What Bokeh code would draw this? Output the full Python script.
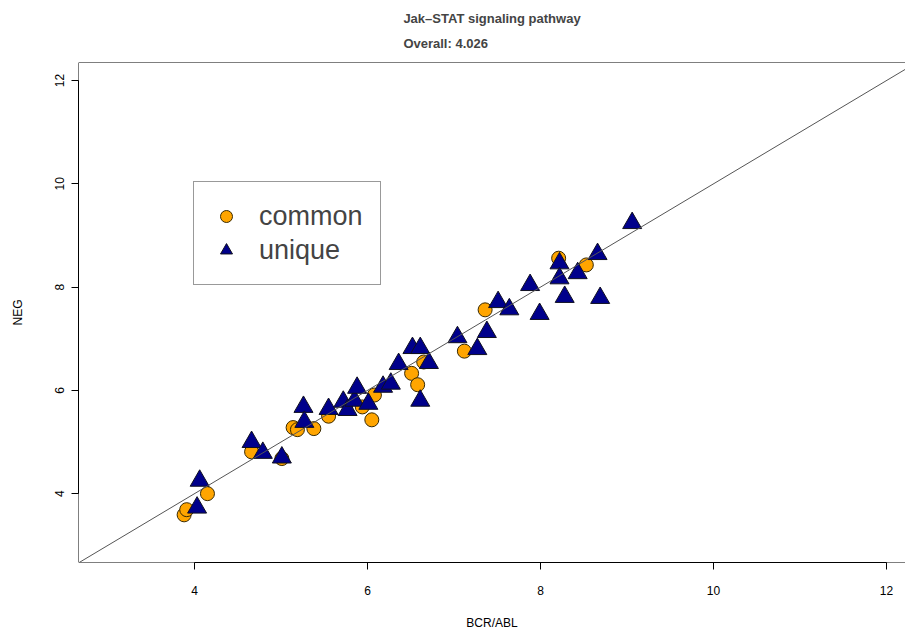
import math
from bokeh.plotting import figure
from bokeh.models import Range1d, Slope, Span, Legend, LegendItem, Title, FixedTicker
from bokeh.embed import file_html
from bokeh.resources import INLINE

# ---- data ----
common_x = [3.88, 3.91, 4.15, 4.66, 5.01, 5.14, 5.19, 5.38, 5.55, 5.94, 6.05, 6.08,
            6.51, 6.58, 6.65, 7.12, 7.36, 8.21, 8.53]
common_y = [3.59, 3.69, 4.00, 4.81, 4.68, 5.28, 5.24, 5.26, 5.50, 5.68, 5.43, 5.91,
            6.33, 6.11, 6.55, 6.76, 7.56, 8.56, 8.43]

unique_x = [4.03, 4.06, 4.66, 4.79, 5.01, 5.26, 5.27, 5.55, 5.72, 5.77, 5.85, 5.88,
            6.01, 6.18, 6.27, 6.36, 6.52, 6.61, 6.71, 6.61, 7.04, 7.27, 7.38, 7.51,
            7.64, 7.88, 7.99, 8.22, 8.22, 8.28, 8.43, 8.66, 8.69, 9.06]
unique_y = [3.73, 4.25, 5.00, 4.79, 4.70, 5.68, 5.39, 5.64, 5.78, 5.62, 5.80, 6.05,
            5.74, 6.07, 6.13, 6.51, 6.82, 6.82, 6.53, 5.80, 7.03, 6.80, 7.13, 7.71,
            7.57, 8.04, 7.48, 8.46, 8.17, 7.81, 8.27, 8.64, 7.79, 9.24]

x_ticks = [4, 6, 8, 10, 12]
y_ticks = [4, 6, 8, 10, 12]

title_lines = ["Jak\u2013STAT signaling pathway", "Overall: 4.026"]

FONT = "Liberation Sans"

p = figure(width=905, height=632, output_backend="svg", toolbar_location=None,
           title=None,
           x_range=Range1d(2.659, 12.22), y_range=Range1d(2.667, 12.35),
           min_border_left=78, min_border_right=0, min_border_top=62, min_border_bottom=70)
p.background_fill_color = "white"
p.border_fill_color = "white"
p.outline_line_color = None
p.grid.visible = False

# box (left, top, bottom)
for loc, dim in [(2.659, "height"), (12.35, "width"), (2.667, "width")]:
    p.add_layout(Span(location=loc, dimension=dim, line_color="black", line_width=1))

p.add_layout(Slope(gradient=1, y_intercept=0, line_color="#555555", line_width=1))

r_common = p.scatter(common_x, common_y, marker="circle", size=14,
                     fill_color="#FFA500", line_color="#3a2a00", line_width=1)
r_unique = p.scatter(unique_x, unique_y, marker="triangle", size=19,
                     fill_color="#00008B", line_color="#101020", line_width=1)

for ax, ticks in [(p.xaxis[0], x_ticks), (p.yaxis[0], y_ticks)]:
    ax.ticker = FixedTicker(ticks=ticks)
    ax.bounds = (ticks[0], ticks[-1])
    ax.minor_tick_line_color = None
    ax.major_tick_in = 0
    ax.major_tick_out = 7
    ax.axis_line_color = "black"
    ax.major_tick_line_color = "black"
    ax.major_label_text_font = FONT
    ax.major_label_text_font_size = "12px"
    ax.major_label_text_color = "black"
    ax.axis_label_text_font = FONT
    ax.axis_label_text_font_size = "12px"
    ax.axis_label_text_font_style = "normal"
    ax.axis_label_text_color = "black"

p.xaxis[0].axis_label = "BCR/ABL"
p.xaxis[0].major_label_standoff = 16
p.xaxis[0].axis_label_standoff = 18
p.yaxis[0].axis_label = "NEG"
p.yaxis[0].major_label_orientation = "vertical"
p.yaxis[0].major_label_standoff = 7
p.yaxis[0].axis_label_standoff = 28

p.add_layout(Title(text="\n".join(title_lines), align="center", vertical_align="top",
                   text_font=FONT, text_font_size="13px", text_font_style="bold",
                   text_line_height=1.64, standoff=19), "above")

legend = Legend(items=[LegendItem(label="common", renderers=[r_common]),
                       LegendItem(label="unique", renderers=[r_unique])],
                location=(115, 277), padding=17, spacing=0, margin=0,
                glyph_width=30, glyph_height=34, label_height=34, label_standoff=18,
                label_text_font=FONT, label_text_font_size="27px",
                border_line_color="#333333", border_line_width=1,
                background_fill_color="white", background_fill_alpha=1.0)
p.add_layout(legend)

open("out.html", "w").write(file_html(p, INLINE))
